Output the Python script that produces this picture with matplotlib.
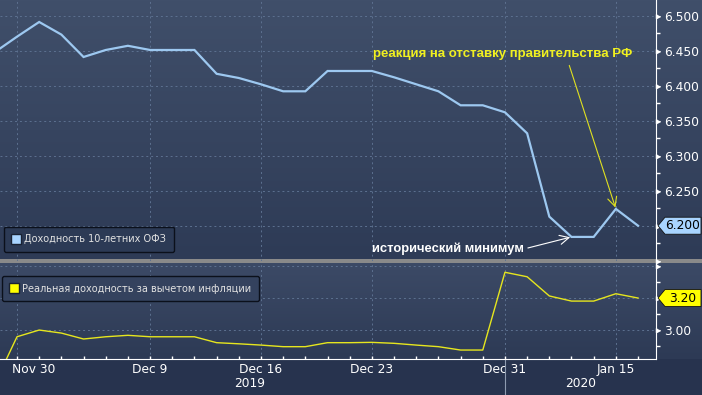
import numpy as np
import matplotlib
matplotlib.use('Agg')
import matplotlib.pyplot as plt
import matplotlib.transforms as mtransforms
from matplotlib.lines import Line2D
from matplotlib.patches import Polygon

# trading-day index, 0 = "Nov 30"
days = list(range(-1, 29))
ofz10 = [6.448, 6.470, 6.491, 6.473, 6.441, 6.451, 6.457, 6.451, 6.451, 6.451,
         6.417, 6.411, 6.402, 6.392, 6.392, 6.421, 6.421, 6.421, 6.412, 6.402,
         6.392, 6.372, 6.372, 6.362, 6.332, 6.213, 6.184, 6.184, 6.224, 6.200]
real_yield = [2.665, 2.958, 3.000, 2.981, 2.944, 2.958, 2.967, 2.958, 2.958, 2.958,
              2.921, 2.914, 2.906, 2.896, 2.896, 2.921, 2.921, 2.923, 2.917, 2.906,
              2.896, 2.875, 2.875, 3.361, 3.333, 3.213, 3.181, 3.181, 3.227, 3.200]

tick_pos = [0, 6, 11, 16, 22, 27]
tick_labels = ['Nov 30', 'Dec 9', 'Dec 16', 'Dec 23', 'Dec 31', 'Jan 15']
year_pos = [10.5, 25.4]
year_labels = ['2019', '2020']
year_break = 22

ofz_ticks = [6.15, 6.20, 6.25, 6.30, 6.35, 6.40, 6.45, 6.50]
ofz_ticklabels = ['', '', '6.250', '6.300', '6.350', '6.400', '6.450', '6.500']
real_ticks = [3.00, 3.20, 3.40]
real_ticklabels = ['3.00', '', '']

C_BLUE = '#9dc8f0'
C_BLUE_BOX = '#a8d4ff'
C_YEL = '#e6e61e'
C_YEL_BOX = '#ffff00'
C_GRID = '#5d7190'
W, H = 702, 395

fig = plt.figure(figsize=(W / 100, H / 100), dpi=100)

# background gradient
def hex2rgb(h):
    h = h.lstrip('#')
    return np.array([int(h[i:i + 2], 16) for i in (0, 2, 4)]) / 255.0

rows = np.zeros((H, 1, 3))
for r in range(H):
    if r < 259:
        t = r / 258
        rows[r, 0] = (1 - t) * hex2rgb('#404f6a') + t * hex2rgb('#2e3b56')
    elif r < 263:
        rows[r, 0] = hex2rgb('#8a8a8a')
    elif r < 359:
        t = (r - 263) / 95
        rows[r, 0] = (1 - t) * hex2rgb('#3c4a66') + t * hex2rgb('#2d3a55')
    else:
        rows[r, 0] = hex2rgb('#27334e')
bg = fig.add_axes([0, 0, 1, 1])
bg.imshow(rows, aspect='auto', extent=[0, 1, 0, 1], interpolation='nearest')
bg.axis('off')

xl = (-17 / 22.18, (656 - 17) / 22.18)
ax1 = fig.add_axes([0, 1 - 261 / H, 656 / W, 261 / H])
ax2 = fig.add_axes([0, 1 - 359 / H, 656 / W, 96 / H])

tri = [(0, 1), (0, -1), (2, 0)]

for ax in (ax1, ax2):
    ax.set_facecolor('none')
    ax.set_xlim(*xl)
    for s in ('left', 'top'):
        ax.spines[s].set_visible(False)
    ax.spines['right'].set_color('white')
    ax.spines['bottom'].set_color('white')
    ax.yaxis.tick_right()
    ax.set_xticks(tick_pos)
    ax.set_xticks(range(0, 29), minor=True)
    ax.grid(True, which='major', color=C_GRID, lw=0.7, ls=(0, (2, 3)))
    ax.tick_params(axis='y', which='major', length=5, width=1, color='white',
                   labelcolor='white', labelsize=8.8, pad=1)
    ax.tick_params(axis='y', which='minor', length=3, width=1, color='white')

ax1.spines['bottom'].set_visible(False)
ax1.tick_params(axis='x', which='both', bottom=False, labelbottom=False)

# top panel
ax1.plot(days, ofz10, color=C_BLUE, lw=1.6, solid_joinstyle='miter')
ax1.set_ylim(6.1496, 6.5224)
ax1.set_yticks(ofz_ticks)
ax1.set_yticklabels(ofz_ticklabels, family='DejaVu Sans')
ax1.set_yticks(np.arange(6.175, 6.5, 0.05), minor=True)

# bottom panel
ax2.plot(days, real_yield, color=C_YEL, lw=1.0)
ax2.set_ylim(2.819, 3.419)
ax2.set_yticks(real_ticks)
ax2.set_yticklabels(real_ticklabels, family='DejaVu Sans')
ax2.set_yticks([2.9, 3.1, 3.3], minor=True)
ax2.set_xticklabels(tick_labels, family='DejaVu Sans')
ax2.tick_params(axis='x', which='both', direction='in', length=2.5, width=1,
                color='white', labelcolor='white', labelsize=8.8, pad=3)
first = ax2.get_xticklabels()[0]
first.set_ha('left')
first.set_transform(first.get_transform() +
                    mtransforms.ScaledTranslation(-5 / 100, 0, fig.dpi_scale_trans))

for ax in (ax1, ax2):
    for t in ax.yaxis.get_major_ticks():
        t.tick2line.set_marker(tri)
        t.tick2line.set_markersize(6)
        t.tick2line.set_markerfacecolor('white')
        t.tick2line.set_markeredgecolor('white')

# year labels and separator
for xp, lab in zip(year_pos, year_labels):
    ax2.text(xp, -0.26, lab, transform=ax2.get_xaxis_transform(), ha='center',
             va='center', color='white', fontsize=8.8, family='DejaVu Sans')
ax2.plot([year_break, year_break], [0, -0.40], transform=ax2.get_xaxis_transform(),
         color='#8e9bb0', lw=0.8, clip_on=False)

# legends
h1 = [Line2D([], [], marker='s', ls='none', markersize=7.5,
             markerfacecolor=C_BLUE_BOX, markeredgecolor='#1a2233')]
ax1.legend(h1, ['Доходность 10-летних ОФЗ'], loc='lower left',
           bbox_to_anchor=(0.006, 0.034), borderaxespad=0,
           facecolor='#2c3a55', edgecolor='#0b101b', framealpha=1,
           labelcolor='#e2e2e2', handlelength=0.8,
           handletextpad=0.5, borderpad=0.8,
           prop={'family': 'DejaVu Sans', 'size': 7.0})
h2 = [Line2D([], [], marker='s', ls='none', markersize=7.5,
             markerfacecolor=C_YEL_BOX, markeredgecolor='#1a2233')]
ax2.legend(h2, ['Реальная доходность за вычетом инфляции'], loc='lower left',
           bbox_to_anchor=(0.003, 0.6), borderaxespad=0,
           facecolor='#34425e', edgecolor='#0b101b', framealpha=1,
           labelcolor='#e2e2e2', handlelength=0.8,
           handletextpad=0.5, borderpad=0.8,
           prop={'family': 'DejaVu Sans', 'size': 7.0})

# annotations
ax1.annotate('реакция на отставку правительства РФ', xy=(days[-2], ofz10[-2]),
             xytext=(16.05, 6.4453), ha='left', va='center', color='#f0f020',
             fontsize=9.5, weight='bold', family='Liberation Sans',
             arrowprops=dict(arrowstyle='->,head_length=0.7,head_width=0.35',
                             color='#e0e020', lw=0.8, relpos=(0.75, 0),
                             shrinkA=2, shrinkB=1))
ax1.annotate('исторический минимум', xy=(days[-4], ofz10[-4]),
             xytext=(16.0, 6.1667), ha='left', va='center', color='white',
             fontsize=9.4, weight='bold', family='Liberation Sans',
             arrowprops=dict(arrowstyle='->,head_length=0.7,head_width=0.35',
                             color='white', lw=0.8, relpos=(1, 0.5),
                             shrinkA=1, shrinkB=1))

# last-value boxes
def value_box(ax, val, text, fc):
    _, yc = ax.transData.transform((0, val))
    x0 = 658
    hh = 8.5
    pts = [(x0, yc), (x0 + 7, yc + hh), (x0 + 43, yc + hh),
           (x0 + 43, yc - hh), (x0 + 7, yc - hh)]
    fig.patches.append(Polygon(pts, closed=True, transform=None, facecolor=fc,
                               edgecolor='#111111', lw=0.6, zorder=5))
    fig.text((x0 + 25) / W, yc / H, text, ha='center', va='center',
             color='black', fontsize=8.8, family='DejaVu Sans', zorder=6)

value_box(ax1, ofz10[-1], f'{ofz10[-1]:.3f}', C_BLUE_BOX)
value_box(ax2, real_yield[-1], f'{real_yield[-1]:.2f}', C_YEL_BOX)

fig.savefig('out.png', dpi=100)
